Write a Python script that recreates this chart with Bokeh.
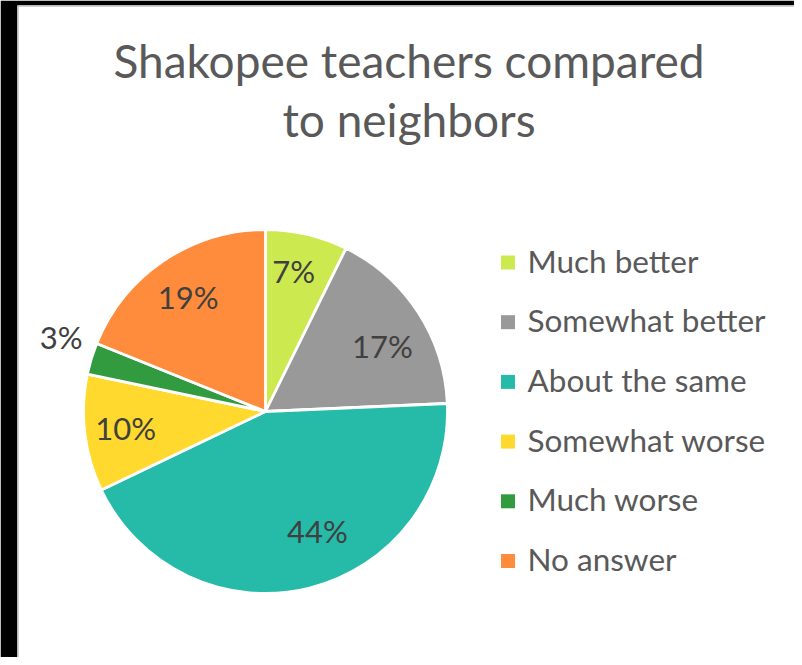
import math
from bokeh.plotting import figure
from bokeh.models import Range1d, ColumnDataSource, Span
from bokeh.core.properties import value
from bokeh.embed import file_html
from bokeh.resources import INLINE

# ---- data ----
categories = ["Much better", "Somewhat better", "About the same",
              "Somewhat worse", "Much worse", "No answer"]
percents = [7.3, 17.0, 43.6, 10.4, 2.8, 18.9]
colors = ["#CCEA50", "#999999", "#26BBA8", "#FFD92E", "#329B40", "#FF8C3C"]
title_lines = ["Shakopee teachers compared", "to neighbors"]

# label placement (fraction of radius, angular nudge in degrees)
label_rfrac = [0.775, 0.73, 0.73, 0.775, 1.19, 0.75]
label_nudge = [-1.6, 4.8, -9.0, -0.9, 2.5, -0.5]

FONT = "Lato"
W, H = 794, 657
LEFT, TOP = 17, 5

def py(y_img):
    return H - y_img

p = figure(width=W, height=H, x_range=Range1d(LEFT, W), y_range=Range1d(0, H - TOP),
           output_backend="svg", toolbar_location=None,
           min_border_left=LEFT, min_border_right=0, min_border_top=TOP, min_border_bottom=0)
p.axis.visible = False
p.grid.visible = False
p.border_fill_color = "black"
p.background_fill_color = "white"
p.outline_line_color = None
p.add_layout(Span(location=LEFT + 0.5, dimension="height", line_color="#A6A6A6", line_width=1))
p.add_layout(Span(location=py(TOP + 0.5), dimension="width", line_color="#A6A6A6", line_width=1))

cx, cy, R = 265, py(411), 182
total = sum(percents)
starts, ends, mids = [], [], []
acc = 0.0
for v in percents:
    f0 = acc / total
    acc += v
    f1 = acc / total
    starts.append(math.pi / 2 - 2 * math.pi * f0)
    ends.append(math.pi / 2 - 2 * math.pi * f1)
    mids.append((f0 + f1) / 2 * 2 * math.pi)

src = ColumnDataSource(dict(start=starts, end=ends, color=colors, cat=categories))
p.wedge(x=cx, y=cy, radius=R, start_angle="start", end_angle="end", direction="clock",
        fill_color="color", line_color="white", line_width=2.8, source=src)

lx, ly, lt = [], [], []
for i, v in enumerate(percents):
    b = mids[i] + math.radians(label_nudge[i])
    r = R * label_rfrac[i]
    lx.append(cx + r * math.sin(b))
    ly.append(cy + r * math.cos(b))
    lt.append(f"{v:.0f}%")
p.text(x=lx, y=ly, text=lt, text_align="center", text_baseline="middle",
       y_offset=-2.5, text_font=value(FONT), text_font_size="31px", text_color="#404040")

# title
p.text(x=[408.5, 408.5], y=[py(59.5), py(118.5)], text=title_lines, text_align="center",
       text_baseline="middle", text_font=value(FONT), text_font_size="46px",
       text_color="#595959")

# legend
leg_y = [py(262 + 59.7 * i) for i in range(len(categories))]
p.scatter(x=[507.5] * len(categories), y=leg_y, marker="square", size=14,
          fill_color=colors, line_color=None)
p.text(x=[527] * len(categories), y=leg_y, text=categories, text_align="left",
       text_baseline="middle", y_offset=-2, text_font=value(FONT), text_font_size="31.5px",
       text_color="#595959")

open("out.html", "w").write(file_html(p, INLINE))
